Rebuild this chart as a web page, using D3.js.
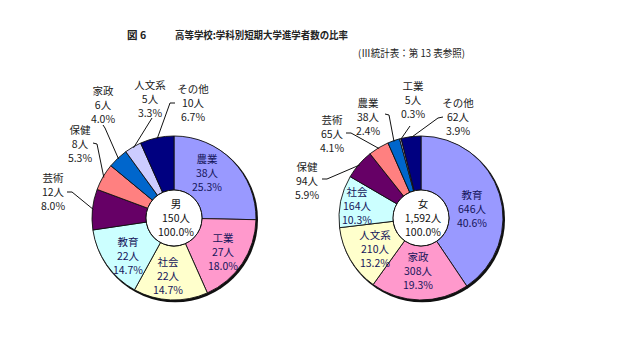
<!DOCTYPE html>
<html><head><meta charset="utf-8">
<script src="https://cdn.jsdelivr.net/npm/d3@7"></script>
<style>body{margin:0;background:#fff}svg{display:block}</style>
</head><body>
<svg id="c" width="640" height="340"></svg>
<script>
// ---- data ----
const titleNo = "図 6";
const titleText = "高等学校:学科別短期大学進学者数の比率";
const subtitleText = "(Ⅲ統計表：第 13 表参照)";

const maleLabel = "男";
const maleCategories = ["農業","工業","社会","教育","芸術","保健","家政","人文系","その他"];
const maleCounts = [38,27,22,22,12,8,6,5,10];

const femaleLabel = "女";
const femaleCategories = ["教育","家政","人文系","社会","保健","芸術","農業","工業","その他"];
const femaleCounts = [646,308,210,164,94,65,38,5,62];

const sliceColors = ["#9999FF","#FF99CC","#FFFFCC","#CCFFFF","#660066","#FF8080","#0066CC","#CCCCFF","#000080"];

// ---- layout (label offsets relative to pie centre; null leader = inside label) ----
const maleLayout = {
  cx: 174, cy: 218,
  labels: [[33,-59],[49,20],[-6,44],[-46,24],[-121,-40],[-94,-88],[-71,-127],[-24,-133],[19,-129]],
  leaders: [null,null,null,null,
    [[-107,-26],[-102,-26]],
    [[-81,-75],[-77,-74]],
    [[-71,-93],[-69,-90]],
    [[-22,-100]],
    [[1,-115],[-4,-115]]]
};
const femaleLayout = {
  cx: 421, cy: 218,
  labels: [[51,-23],[-3,39],[-46,17],[-64,-26],[-114,-51],[-89,-98],[-53,-115],[-8,-132],[37,-115]],
  leaders: [null,null,null,null,
    [[-99,-39],[-94,-39]],
    [[-75,-85],[-70,-85]],
    [[-36,-104],[-32,-103]],
    [[-11,-92]],
    [[22,-101],[17,-100]]]
};

const R = 82, r0 = 28, lineH = 14, fs = 10.5;
const svg = d3.select("#c");
const font = "'Noto Sans CJK JP', 'Noto Sans', sans-serif";

svg.append("text").attr("x",127).attr("y",39).attr("font-family",font)
  .attr("font-size",10.5).attr("font-weight","bold").attr("fill","#222").text(titleNo);
svg.append("text").attr("x",175).attr("y",39).attr("font-family",font)
  .attr("font-size",10.5).attr("font-weight","bold").attr("fill","#222")
  .attr("textLength",173).attr("lengthAdjust","spacingAndGlyphs").text(titleText);
svg.append("text").attr("x",358).attr("y",57).attr("font-family",font)
  .attr("font-size",10).attr("fill","#222")
  .attr("textLength",107).attr("lengthAdjust","spacingAndGlyphs").text(subtitleText);

const pctFmt = d3.format(".1%");
const numFmt = d3.format(",");

function drawPie(categories, counts, centerLabel, layout) {
  const total = d3.sum(counts);
  const data = categories.map((c,i)=>({cat:c, v:counts[i], i}));
  const pie = d3.pie().value(d=>d.v).sort(null);
  const arcs = pie(data);
  const arc = d3.arc().innerRadius(r0).outerRadius(R);
  const g = svg.append("g").attr("transform",`translate(${layout.cx},${layout.cy})`);

  // shadow
  g.append("circle").attr("cx",1.2).attr("cy",1.5).attr("r",R+0.8).attr("fill","#111");
  g.selectAll("path.slice").data(arcs).enter().append("path")
    .attr("class","slice").attr("d",arc)
    .attr("fill",d=>sliceColors[d.index]).attr("stroke","#111").attr("stroke-width",0.9)
    .attr("stroke-linejoin","round");
  g.append("circle").attr("r",r0).attr("fill","#fff").attr("stroke","#111").attr("stroke-width",1);

  // centre text
  [centerLabel, numFmt(total)+"人", pctFmt(1)].forEach((s,k)=>{
    g.append("text").attr("text-anchor","middle").attr("font-family",font)
      .attr("font-size",fs).attr("fill","#111")
      .attr("x",2).attr("y",-14+k*lineH+4).text(s);
  });

  // labels
  arcs.forEach((a,k)=>{
    const [dx,dy] = layout.labels[k];
    const inside = layout.leaders[k] === null;
    [a.data.cat, numFmt(a.data.v)+"人", pctFmt(a.data.v/total)].forEach((s,j)=>{
      g.append("text").attr("text-anchor","middle").attr("font-family",font)
        .attr("font-size",fs).attr("fill", inside ? "#15155a" : "#1a1a1a")
        .attr("x",dx).attr("y",dy+j*lineH+4).text(s);
    });
    if (!inside) {
      const mid = (a.startAngle+a.endAngle)/2;
      const end = [Math.sin(mid)*(R-1), -Math.cos(mid)*(R-1)];
      const pts = layout.leaders[k].concat([end]);
      g.append("path").attr("d", d3.line()(pts)).attr("fill","none")
        .attr("stroke","#111").attr("stroke-width",1);
    }
  });
}

drawPie(maleCategories, maleCounts, maleLabel, maleLayout);
drawPie(femaleCategories, femaleCounts, femaleLabel, femaleLayout);
</script>
</body></html>
